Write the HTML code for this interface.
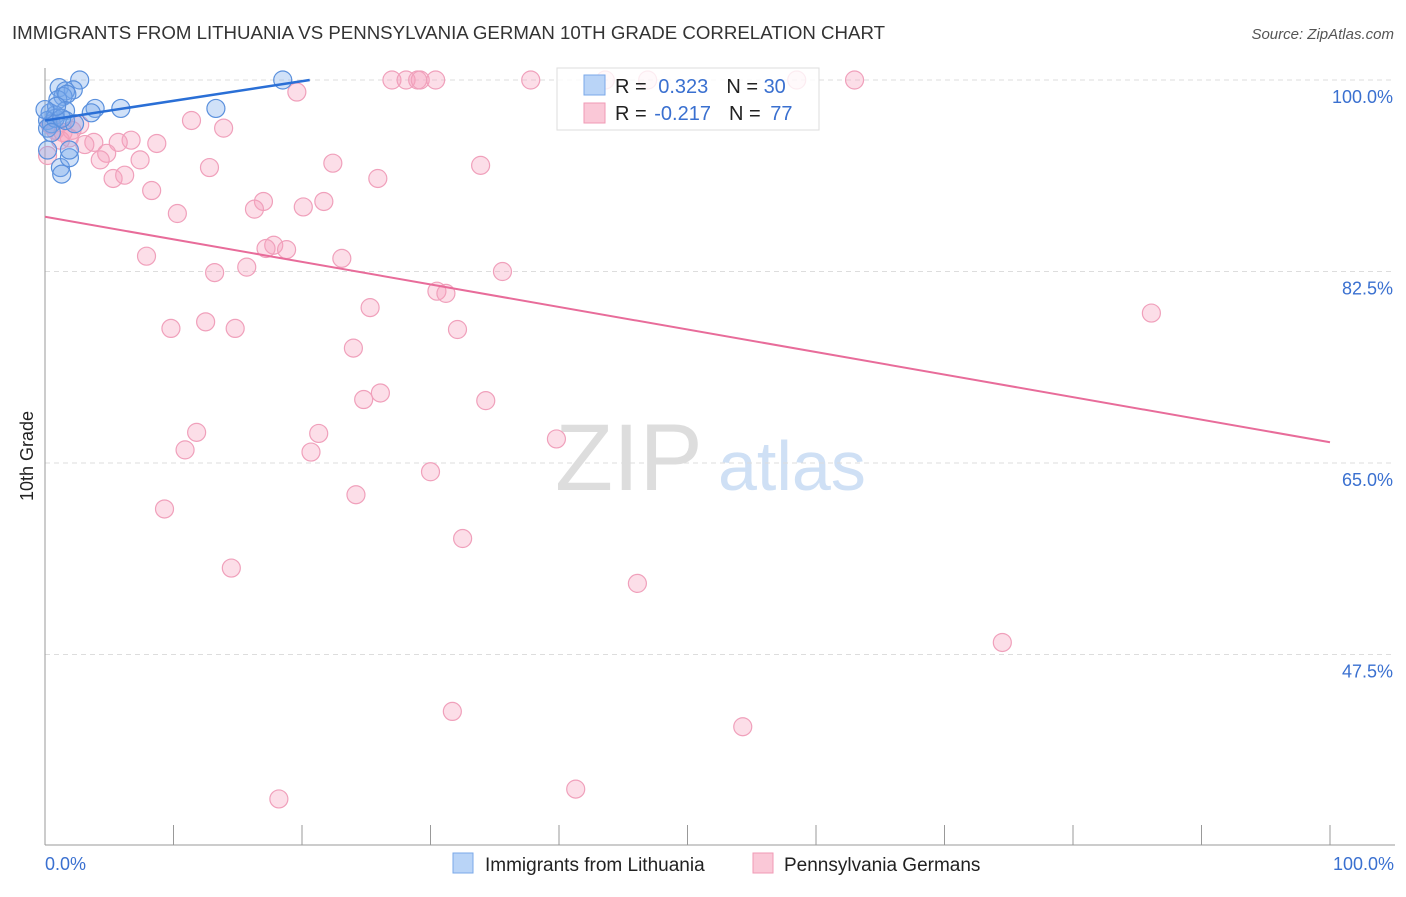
<!DOCTYPE html>
<html><head><meta charset="utf-8"><style>
body{margin:0;background:#fff;font-family:"Liberation Sans",sans-serif}
svg text{font-family:"Liberation Sans",sans-serif}
</style></head><body>
<svg id="c" width="1406" height="892">
<text x="12" y="39" font-size="18" fill="#333" textLength="873" lengthAdjust="spacingAndGlyphs">IMMIGRANTS FROM LITHUANIA VS PENNSYLVANIA GERMAN 10TH GRADE CORRELATION CHART</text>
<text x="1394" y="39" font-size="15" fill="#555" text-anchor="end" font-style="italic">Source: ZipAtlas.com</text>
<text x="33" y="456" font-size="18" fill="#222" text-anchor="middle" transform="rotate(-90 33 456)">10th Grade</text>
<text x="555" y="490" font-size="95" fill="#ddd" font-family="Liberation Serif">ZIP</text>
<text x="718" y="490" font-size="70" fill="#cfe0f5">atlas</text>
<g id="grid"></g><g id="pts"></g><g id="lines"></g>
<g>
<rect x="557" y="68" width="262" height="62" fill="rgba(255,255,255,0.8)" stroke="#ddd"/>
<rect x="584" y="75" width="21" height="20" fill="#b9d4f7" stroke="#7aa8e8"/>
<rect x="584" y="103" width="21" height="20" fill="#fac8d7" stroke="#f09ab5"/>
<text x="615" y="93" font-size="20" fill="#222">R = <tspan fill="#3a70d0" dx="6">0.323</tspan><tspan dx="18">N = </tspan><tspan fill="#3a70d0">30</tspan></text>
<text x="615" y="120" font-size="20" fill="#222">R = <tspan fill="#3a70d0" dx="2">-0.217</tspan><tspan dx="18">N = </tspan><tspan fill="#3a70d0" dx="4">77</tspan></text>
</g>
<g>
<rect x="453" y="853" width="20" height="20" fill="#b9d4f7" stroke="#7aa8e8"/>
<text x="485" y="871" font-size="19" fill="#222">Immigrants from Lithuania</text>
<rect x="753" y="853" width="20" height="20" fill="#fac8d7" stroke="#f09ab5"/>
<text x="784" y="871" font-size="19" fill="#222">Pennsylvania Germans</text>
</g>
<text x="45" y="870" font-size="18" fill="#3a70d0">0.0%</text>
<text x="1394" y="870" font-size="18" fill="#3a70d0" text-anchor="end">100.0%</text>
</svg>
<script>
const yTicks=[100,82.5,65,47.5];
const yTickLabels=["100.0%","82.5%","65.0%","47.5%"];
const xTicks=[0,10,20,30,40,50,60,70,80,90,100];
const blueX=[2.7,18.5,1.1,2.2,1.6,1.4,1.0,1.7,3.9,5.9,13.3,3.6,0.4,1.6,0.8,0.2,0.5,1.6,2.3,0.2,1.2,1.9,1.3,1.9,0.8,1.3,0.5,0.2,0.9,0];
const blueY=[100,100,99.3,99.1,99.0,98.5,98.2,98.7,97.4,97.4,97.4,97.0,97.0,97.2,96.8,96.3,96.0,96.3,96.0,95.6,92.0,92.9,91.4,93.6,96.5,96.5,95.2,93.6,97.6,97.3];
const pinkX=[19.6,27.0,28.1,29.0,29.2,30.4,37.8,43.6,46.9,58.5,63.0,11.4,13.9,6.7,8.7,3.8,5.7,4.8,7.4,4.3,12.8,22.4,33.9,25.9,5.3,6.2,8.3,17.0,16.3,21.7,20.1,10.3,7.9,17.8,18.8,17.2,23.1,15.7,13.2,35.6,30.5,31.2,25.3,86.1,9.8,12.5,14.8,32.1,24.0,26.1,24.8,34.3,11.8,21.3,10.9,20.7,39.8,30.0,24.2,9.3,32.5,14.5,46.1,74.5,31.7,54.3,18.2,41.3,0.8,1.4,2.1,3.1,0.2,1.2,2.7,0.4,1.9];
const pinkY=[98.9,100,100,100,100,100,100,100,100,100,100,96.3,95.6,94.5,94.2,94.3,94.3,93.3,92.7,92.7,92.0,92.4,92.2,91.0,91.0,91.3,89.9,88.9,88.2,88.9,88.4,87.8,83.9,84.9,84.5,84.6,83.7,82.9,82.4,82.5,80.7,80.5,79.2,78.7,77.3,77.9,77.3,77.2,75.5,71.4,70.8,70.7,67.8,67.7,66.2,66.0,67.2,64.2,62.1,60.8,58.1,55.4,54.0,48.6,42.3,40.9,34.3,35.2,95.4,95.2,95.4,94.1,93.1,94.5,95.9,95.9,94.7];
const blueTrend=[0,96.3,20.6,100];
const pinkTrend=[0,87.5,100,66.9];
const NS='http://www.w3.org/2000/svg';
const X=v=>45+v*12.85, Y=v=>80+(100-v)*10.943;
function mk(p,t,a){const e=document.createElementNS(NS,t);for(const k in a)e.setAttribute(k,a[k]);p.appendChild(e);return e;}
const g=document.getElementById('grid');
yTicks.forEach((t,i)=>{
 const l=mk(g,'line',{x1:45,x2:1395,y1:Y(t),y2:Y(t),stroke:'#ddd','stroke-dasharray':'5 4'});
 
 
 const tx=mk(g,'text',{x:1393,y:Y(t)+23,'font-size':18,fill:'#3a70d0','text-anchor':'end'});tx.textContent=yTickLabels[i];
 
 
});
mk(g,'line',{x1:45,x2:45,y1:68,y2:845,stroke:'#999'});
mk(g,'line',{x1:45,x2:1395,y1:845,y2:845,stroke:'#999'});
xTicks.forEach(t=>{const l=mk(g,'line',{x1:X(t),x2:X(t),y1:825,y2:845,stroke:'#999'});
 
 });
const p=document.getElementById('pts');
pinkX.forEach((x,i)=>{const c=mk(p,'circle',{cx:X(x),cy:Y(pinkY[i]),r:9,fill:'rgba(246,160,190,0.35)',stroke:'#f0a0bb','stroke-width':1.2});
 
 });
blueX.forEach((x,i)=>{const c=mk(p,'circle',{cx:X(x),cy:Y(blueY[i]),r:9,fill:'rgba(120,170,235,0.35)',stroke:'#5a90dd','stroke-width':1.2});
 
 });
const L=document.getElementById('lines');
const bl=mk(L,'line',{x1:X(blueTrend[0]),y1:Y(blueTrend[1]),x2:X(blueTrend[2]),y2:Y(blueTrend[3]),stroke:'#2a6fd6','stroke-width':2.5});


const pl=mk(L,'line',{x1:X(pinkTrend[0]),y1:Y(pinkTrend[1]),x2:X(pinkTrend[2]),y2:Y(pinkTrend[3]),stroke:'#e86c9a','stroke-width':2});


</script>
</body></html>
